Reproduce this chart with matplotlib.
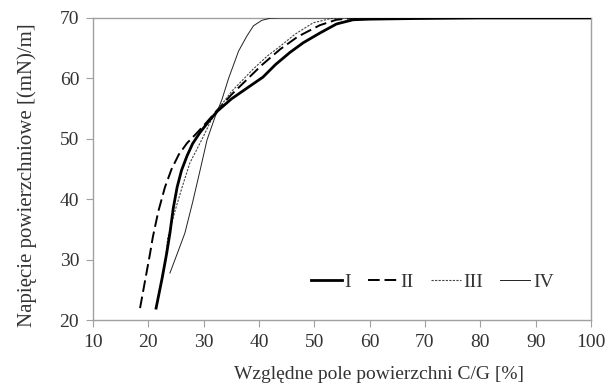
import matplotlib
matplotlib.use("Agg")
import matplotlib.pyplot as plt

plt.rcParams['font.family'] = ['Liberation Serif', 'DejaVu Serif']

# Data
x_I = [21.4, 22.5, 23.3, 23.9, 24.5, 25.2, 26.0, 27.0, 28.0, 29.3, 31.0, 32.5, 35.0, 38.0, 40.7, 43.0, 45.6, 48.0, 51.0, 54.0, 57.0, 60.0, 68.0, 80.0, 100.0]
y_I = [22.0, 27.0, 31.0, 34.4, 38.5, 42.0, 44.8, 47.2, 49.2, 51.0, 53.0, 54.6, 56.6, 58.5, 60.2, 62.3, 64.3, 65.9, 67.5, 69.0, 69.7, 69.8, 69.9, 70.0, 70.0]

x_II = [18.5, 19.5, 20.3, 20.8, 21.8, 23.0, 24.2, 25.5, 27.0, 28.8, 30.5, 32.5, 35.0, 37.8, 40.5, 43.8, 47.0, 51.0, 54.0, 57.0, 100.0]
y_II = [22.0, 27.0, 31.0, 33.7, 38.0, 42.0, 45.0, 47.4, 49.3, 51.0, 52.7, 54.8, 57.3, 59.8, 62.2, 64.8, 66.9, 68.8, 69.7, 70.0, 70.0]

x_III = [23.2, 23.5, 24.8, 26.1, 27.5, 29.9, 31.3, 32.7, 35.0, 38.9, 41.5, 43.8, 46.5, 49.8, 53.0, 56.0, 100.0]
y_III = [31.0, 33.6, 38.0, 42.0, 46.0, 50.3, 53.0, 55.0, 57.8, 61.5, 63.7, 65.3, 67.3, 69.2, 69.9, 70.0, 70.0]

x_IV = [23.9, 25.3, 26.6, 28.0, 29.4, 30.6, 32.0, 33.3, 34.5, 36.3, 37.8, 39.0, 40.5, 42.0, 44.0, 100.0]
y_IV = [27.8, 31.2, 34.4, 39.5, 45.0, 49.8, 53.5, 56.5, 60.0, 64.5, 67.0, 68.7, 69.6, 69.95, 70.0, 70.0]

labels = ["I", "II", "III", "IV"]
x_ticks = [10, 20, 30, 40, 50, 60, 70, 80, 90, 100]
y_ticks = [20, 30, 40, 50, 60, 70]

fig = plt.figure(figsize=(6.08, 3.90), dpi=100)
ax = fig.add_axes([0.153, 0.179, 0.819, 0.775])

ax.plot(x_I, y_I, color='black', lw=2.0, label=labels[0], zorder=4)
ax.plot(x_II, y_II, color='black', lw=1.4, dashes=(6, 2.5), label=labels[1], zorder=3)
ax.plot(x_III, y_III, color='#444444', lw=0.8, dashes=(2, 1.2), label=labels[2], zorder=3)
ax.plot(x_IV, y_IV, color='#222222', lw=0.7, label=labels[3], zorder=3)

ax.set_xlim(10, 100)
ax.set_ylim(20, 70)
ax.set_xticks(x_ticks)
ax.set_yticks(y_ticks)

for s in ax.spines.values():
    s.set_color('#a0a0a0')
    s.set_linewidth(1.0)
ax.tick_params(direction='out', length=5, color='#a0a0a0', labelsize=14, labelcolor='#333333', pad=5)

ax.set_xlabel("Względne pole powierzchni C/G [%]", fontsize=14, color='#333333')
ax.xaxis.set_label_coords(0.574, -0.15)
ax.set_ylabel("Napięcie powierzchniowe [(mN)/m]", fontsize=15, color='#333333')
ax.yaxis.set_label_coords(-0.112, 0.48)

leg = ax.legend(loc='center', bbox_to_anchor=(0.682, 0.126), ncol=4, frameon=False,
                fontsize=14, handlelength=1.55, handletextpad=0.15, columnspacing=0.85,
                labelcolor='#333333')

fig.savefig("out.png", dpi=100)
